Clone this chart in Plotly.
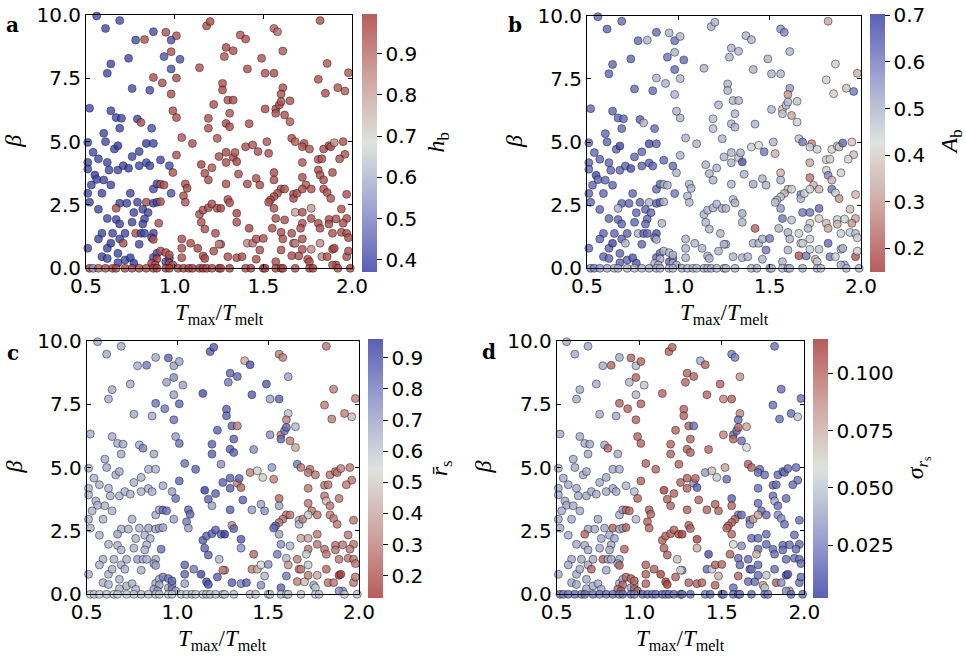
import plotly.graph_objects as go

# ---------------- data ----------------
# groups: top-left | top-right | middle-right | left-middle | left-lower |
#         centre | right-middle | lower-centre/right | bottom | beta = 0 row
x = [
    0.56, 0.61, 0.69, 0.88, 0.78, 0.83, 0.95, 0.98, 1.01, 0.98, 0.94, 1.03, 0.98, 0.64, 0.62, 0.74, 0.88, 0.93, 1.01, 0.76, 0.86, 0.98,
    1.18, 1.20, 1.37, 1.40, 1.56, 1.58, 1.82, 1.29, 1.33, 1.14, 1.28, 1.41, 1.49, 1.61, 1.51, 1.56, 1.86, 1.81, 1.98, 1.27, 1.27, 1.85, 1.92, 1.96, 1.61, 1.60,
    1.30, 1.33, 1.22, 1.31, 1.19, 1.19, 1.29, 1.31, 1.42, 1.24, 1.51, 1.57, 1.59, 1.60, 1.65, 1.57, 1.62, 1.65, 1.66, 1.68, 1.73, 1.72, 1.76, 0.99, 1.01, 1.10, 1.04,
    0.52, 0.64, 0.67, 0.70, 0.79, 0.81, 0.69, 0.87, 0.60, 0.61, 0.51, 0.66, 0.68, 0.54, 0.57, 0.51, 0.62, 0.63, 0.68, 0.71, 0.74, 0.76, 0.80, 0.80, 0.84, 0.88, 0.84, 0.86, 0.92, 0.97, 1.01, 0.99, 0.51, 0.55, 0.56, 0.53, 0.60, 0.64, 0.51, 0.59, 0.52, 0.75, 0.88, 0.90, 0.92, 0.94, 0.98,
    0.57, 0.62, 0.69, 0.73, 0.67, 0.67, 0.69, 0.77, 0.76, 0.79, 0.84, 0.82, 0.85, 0.83, 0.82, 0.88, 0.90, 0.92, 0.91, 0.59, 0.57, 0.62, 0.51, 0.65, 0.64, 0.69, 0.71, 0.72, 0.78, 0.81, 0.83, 0.88, 0.80, 0.87, 0.88, 0.59, 0.62, 0.68, 0.68, 0.72, 0.75, 0.77, 0.88, 0.90, 0.95, 0.97, 0.92, 0.95, 0.97, 0.97, 0.90, 0.87, 0.89, 0.99, 1.04, 1.04,
    1.05, 1.06, 1.06, 1.07, 1.15, 1.17, 1.19, 1.21, 1.29, 1.25, 1.29, 1.29, 1.33, 1.34, 1.35, 1.36, 1.41, 1.40, 1.44, 1.47, 1.53, 1.52, 1.46, 1.48, 1.56, 1.56, 1.60, 1.62, 1.58, 1.56, 1.54, 1.53, 1.67, 1.67, 1.69, 1.72, 1.74, 1.72, 1.77, 1.72,
    1.81, 1.83, 1.84, 1.87, 1.88, 1.90, 1.95, 1.96, 1.93, 1.81, 1.82, 1.84, 1.89, 1.84, 1.86, 1.88, 1.97, 1.94, 1.97,
    1.14, 1.16, 1.19, 1.21, 1.24, 1.26, 1.30, 1.31, 1.35, 1.15, 1.17, 1.23, 1.35, 1.42, 1.55, 1.56, 1.57, 1.62, 1.60, 1.66, 1.68, 1.72, 1.77, 1.72, 1.71, 1.77, 1.81, 1.82, 1.87, 1.87, 1.91, 1.95, 1.89, 1.94, 1.97, 1.98,
    1.09, 1.13, 1.22, 1.16, 1.17, 1.26, 1.25, 1.30, 1.35, 1.38, 1.41, 1.44, 1.46, 1.50, 1.48, 1.46, 1.60, 1.57, 1.61, 1.67, 1.66, 1.70, 1.68, 1.72, 1.72, 1.75, 1.77, 1.76, 1.82, 1.83, 1.86, 1.89, 1.90, 1.91, 1.89, 1.97, 1.98, 1.04,
    0.52, 0.54, 0.57, 0.61, 0.65, 0.67, 0.72, 0.76, 0.80, 0.84, 0.88, 0.90, 0.95, 0.97, 1.02, 1.05, 1.08, 1.10, 1.14, 1.16, 1.18, 1.21, 1.25, 1.26, 1.31, 1.40, 1.43, 1.50, 1.51, 1.57, 1.60, 1.61, 1.68, 1.76, 1.78, 1.92, 1.99,
]
beta = [
    9.96, 9.47, 9.78, 9.34, 9.01, 9.03, 9.32, 9.01, 9.18, 8.55, 8.36, 8.25, 7.87, 8.07, 7.70, 8.29, 7.53, 7.32, 7.51, 7.10, 7.03, 6.88,
    9.57, 9.74, 9.21, 9.05, 9.47, 9.34, 9.78, 8.72, 8.59, 7.92, 8.36, 7.87, 8.29, 8.58, 7.70, 7.70, 8.09, 7.46, 7.72, 7.30, 7.04, 6.91, 7.13, 7.00, 7.13, 6.88,
    6.64, 6.64, 6.47, 6.12, 5.92, 5.53, 5.72, 5.59, 5.71, 5.13, 6.29, 6.29, 6.45, 6.58, 6.61, 6.12, 6.05, 5.79, 5.13, 5.00, 4.93, 4.80, 4.71, 6.22, 5.95, 4.93, 5.16,
    6.32, 6.22, 5.95, 5.92, 5.89, 5.76, 5.53, 5.53, 5.33, 5.00, 4.97, 4.71, 4.84, 4.58, 4.32, 4.18, 4.18, 3.88, 3.88, 4.05, 3.95, 4.41, 4.61, 4.05, 4.93, 4.93, 4.17, 4.05, 4.28, 4.05, 4.47, 3.78, 3.92, 3.68, 3.51, 3.29, 3.49, 3.29, 2.96, 2.96, 2.61, 2.96, 3.13, 3.33, 3.32, 3.29, 2.96,
    2.33, 1.97, 2.57, 2.57, 2.37, 1.93, 1.75, 2.20, 1.82, 2.61, 2.61, 2.33, 2.20, 1.95, 1.75, 2.57, 2.61, 2.63, 1.78, 1.38, 1.16, 0.79, 0.79, 1.38, 0.99, 1.16, 0.99, 1.38, 1.38, 1.38, 1.38, 1.38, 0.95, 1.21, 1.14, 0.46, 0.39, 0.59, 0.22, 0.33, 0.42, 0.20, 0.43, 0.59, 0.26, 0.39, 0.68, 0.62, 0.53, 0.20, 0.37, 0.20, 0.13, 0.13, 0.79, 0.42,
    2.86, 2.61, 3.33, 3.16, 4.10, 3.75, 3.49, 3.97, 3.33, 4.41, 4.58, 4.18, 4.38, 4.57, 4.21, 3.72, 3.33, 4.80, 4.87, 4.61, 4.54, 5.00, 3.55, 3.29, 3.78, 3.49, 3.13, 3.13, 2.96, 2.83, 2.70, 2.61, 2.92, 2.76, 2.96, 3.59, 3.29, 3.13, 3.13, 4.18,
    4.30, 4.32, 4.71, 4.84, 4.80, 4.96, 5.00, 4.50, 4.32, 3.88, 3.68, 3.49, 3.78, 3.13, 2.99, 2.76, 2.92, 2.34, 1.97,
    2.13, 2.30, 2.39, 2.54, 2.37, 2.37, 2.72, 2.59, 2.17, 1.82, 1.55, 1.38, 1.82, 1.58, 1.58, 2.37, 1.97, 1.91, 1.42, 1.38, 2.21, 2.21, 2.37, 1.78, 1.58, 1.97, 1.78, 1.58, 1.93, 1.75, 1.95, 1.78, 1.38, 1.42, 1.38, 1.21,
    0.99, 0.79, 0.68, 0.49, 0.39, 0.95, 0.95, 0.46, 0.42, 0.46, 0.99, 0.99, 1.16, 1.18, 0.72, 0.36, 0.72, 0.26, 1.16, 0.99, 0.50, 0.49, 0.99, 1.16, 0.75, 0.36, 0.75, 0.26, 0.99, 0.46, 0.46, 0.75, 0.79, 0.13, 0.13, 0.46, 0.68, 1.16,
    0.00, 0.00, 0.00, 0.00, 0.00, 0.00, 0.00, 0.00, 0.00, 0.00, 0.00, 0.00, 0.00, 0.00, 0.00, 0.00, 0.00, 0.00, 0.00, 0.00, 0.00, 0.00, 0.00, 0.00, 0.00, 0.00, 0.00, 0.00, 0.00, 0.00, 0.00, 0.00, 0.00, 0.00, 0.00, 0.00, 0.00,
]
h_b = [
    0.40, 0.40, 0.41, 0.41, 0.41, 0.95, 0.95, 0.42, 0.95, 0.95, 0.42, 0.42, 0.42, 0.40, 0.40, 0.40, 0.95, 0.95, 0.95, 0.41, 0.41, 0.95,
    0.95, 0.96, 0.94, 0.95, 0.92, 0.90, 0.95, 0.96, 0.95, 0.95, 0.94, 0.95, 0.95, 0.93, 0.95, 0.95, 0.94, 0.95, 0.93, 0.95, 0.96, 0.95, 0.94, 0.93, 0.95, 0.95,
    0.95, 0.96, 0.95, 0.94, 0.95, 0.95, 0.96, 0.95, 0.95, 0.94, 0.95, 0.95, 0.95, 0.95, 0.95, 0.95, 0.95, 0.93, 0.95, 0.92, 0.95, 0.95, 0.94, 0.95, 0.95, 0.95, 0.94,
    0.40, 0.40, 0.40, 0.40, 0.40, 0.95, 0.40, 0.41, 0.40, 0.40, 0.40, 0.40, 0.38, 0.40, 0.40, 0.40, 0.40, 0.40, 0.40, 0.40, 0.38, 0.40, 0.40, 0.40, 0.38, 0.40, 0.40, 0.40, 0.40, 0.41, 0.95, 0.95, 0.40, 0.38, 0.40, 0.40, 0.40, 0.40, 0.40, 0.40, 0.40, 0.40, 0.41, 0.41, 0.95, 0.95, 0.42,
    0.40, 0.40, 0.40, 0.40, 0.95, 0.40, 0.40, 0.40, 0.40, 0.40, 0.95, 0.40, 0.40, 0.40, 0.40, 0.40, 0.40, 0.95, 0.95, 0.40, 0.40, 0.40, 0.40, 0.40, 0.38, 0.40, 0.95, 0.40, 0.95, 0.40, 0.40, 0.40, 0.40, 0.40, 0.95, 0.40, 0.40, 0.40, 0.40, 0.40, 0.38, 0.38, 0.41, 0.41, 0.41, 0.41, 0.95, 0.95, 0.95, 0.97, 0.97, 0.97, 0.95, 0.95, 0.95, 0.95,
    0.95, 0.94, 0.95, 0.96, 0.97, 0.95, 0.95, 0.94, 0.95, 0.95, 0.96, 0.95, 0.95, 0.94, 0.97, 0.95, 0.95, 0.95, 0.94, 0.95, 0.95, 0.94, 0.95, 0.95, 0.96, 0.95, 0.95, 0.94, 0.95, 0.95, 0.95, 0.95, 0.94, 0.95, 0.95, 0.95, 0.93, 0.95, 0.95, 0.94,
    0.95, 0.95, 0.95, 0.95, 0.95, 0.85, 0.95, 0.95, 0.95, 0.95, 0.95, 0.95, 0.95, 0.95, 0.95, 0.95, 0.95, 0.95, 0.95,
    0.95, 0.95, 0.95, 0.95, 0.95, 0.97, 0.95, 0.95, 0.97, 0.95, 0.95, 0.95, 0.95, 0.97, 0.95, 0.95, 0.95, 0.95, 0.95, 0.95, 0.80, 0.95, 0.82, 0.95, 0.95, 0.95, 0.95, 0.95, 0.95, 0.95, 0.95, 0.95, 0.95, 0.95, 0.95, 0.95,
    0.95, 0.97, 0.95, 0.95, 0.97, 0.95, 0.85, 0.95, 0.95, 0.95, 0.85, 0.88, 0.95, 0.95, 0.95, 0.95, 0.95, 0.95, 0.95, 0.95, 0.95, 0.95, 0.85, 0.95, 0.95, 0.95, 0.85, 0.95, 0.85, 0.85, 0.95, 0.95, 0.97, 0.95, 0.95, 0.95, 0.95, 0.95,
    0.98, 0.55, 0.92, 0.96, 0.96, 0.96, 0.96, 0.96, 0.96, 0.96, 0.97, 0.98, 0.97, 0.98, 0.96, 0.97, 0.97, 0.98, 0.98, 0.98, 0.97, 0.96, 0.96, 0.98, 0.98, 0.96, 0.98, 0.96, 0.97, 0.97, 0.98, 0.97, 0.96, 0.97, 0.98, 0.96, 0.98,
]
A_b = [
    0.63, 0.63, 0.62, 0.62, 0.62, 0.50, 0.50, 0.61, 0.50, 0.50, 0.61, 0.62, 0.62, 0.63, 0.63, 0.63, 0.50, 0.50, 0.49, 0.62, 0.62, 0.50,
    0.50, 0.50, 0.50, 0.50, 0.55, 0.58, 0.33, 0.50, 0.50, 0.50, 0.50, 0.50, 0.50, 0.50, 0.50, 0.50, 0.40, 0.45, 0.35, 0.50, 0.50, 0.40, 0.38, 0.60, 0.55, 0.30,
    0.50, 0.50, 0.50, 0.50, 0.48, 0.48, 0.50, 0.50, 0.50, 0.50, 0.50, 0.38, 0.48, 0.48, 0.47, 0.48, 0.33, 0.45, 0.47, 0.60, 0.28, 0.45, 0.45, 0.50, 0.50, 0.50, 0.50,
    0.63, 0.63, 0.63, 0.63, 0.63, 0.50, 0.63, 0.62, 0.63, 0.63, 0.63, 0.63, 0.68, 0.63, 0.63, 0.63, 0.63, 0.63, 0.63, 0.63, 0.67, 0.63, 0.63, 0.63, 0.67, 0.63, 0.63, 0.63, 0.62, 0.62, 0.50, 0.50, 0.63, 0.68, 0.63, 0.63, 0.63, 0.63, 0.63, 0.63, 0.63, 0.63, 0.62, 0.62, 0.50, 0.50, 0.60,
    0.63, 0.63, 0.63, 0.63, 0.50, 0.63, 0.63, 0.63, 0.63, 0.63, 0.50, 0.63, 0.63, 0.63, 0.63, 0.63, 0.63, 0.50, 0.50, 0.63, 0.63, 0.63, 0.63, 0.63, 0.68, 0.63, 0.50, 0.63, 0.50, 0.63, 0.63, 0.66, 0.63, 0.62, 0.50, 0.63, 0.63, 0.63, 0.63, 0.63, 0.66, 0.66, 0.62, 0.62, 0.62, 0.62, 0.50, 0.50, 0.50, 0.50, 0.50, 0.50, 0.50, 0.50, 0.50, 0.50,
    0.50, 0.50, 0.50, 0.50, 0.50, 0.50, 0.50, 0.50, 0.50, 0.50, 0.50, 0.50, 0.38, 0.50, 0.66, 0.50, 0.52, 0.45, 0.42, 0.60, 0.35, 0.50, 0.50, 0.50, 0.35, 0.50, 0.35, 0.45, 0.35, 0.48, 0.48, 0.48, 0.58, 0.50, 0.45, 0.25, 0.35, 0.45, 0.35, 0.33,
    0.40, 0.40, 0.40, 0.40, 0.38, 0.62, 0.38, 0.37, 0.45, 0.40, 0.58, 0.35, 0.45, 0.60, 0.45, 0.30, 0.36, 0.37, 0.33,
    0.50, 0.50, 0.50, 0.50, 0.50, 0.50, 0.48, 0.50, 0.52, 0.50, 0.50, 0.50, 0.50, 0.22, 0.50, 0.55, 0.60, 0.48, 0.50, 0.45, 0.60, 0.60, 0.62, 0.40, 0.50, 0.40, 0.37, 0.33, 0.45, 0.35, 0.45, 0.30, 0.45, 0.45, 0.48, 0.45,
    0.50, 0.50, 0.50, 0.50, 0.50, 0.50, 0.50, 0.50, 0.50, 0.50, 0.50, 0.50, 0.50, 0.60, 0.60, 0.50, 0.50, 0.50, 0.50, 0.45, 0.20, 0.60, 0.45, 0.45, 0.45, 0.35, 0.47, 0.45, 0.62, 0.60, 0.45, 0.50, 0.50, 0.50, 0.50, 0.20, 0.45, 0.50,
    0.58, 0.58, 0.55, 0.52, 0.50, 0.51, 0.50, 0.49, 0.50, 0.51, 0.50, 0.50, 0.49, 0.50, 0.51, 0.50, 0.50, 0.49, 0.50, 0.50, 0.51, 0.50, 0.50, 0.49, 0.50, 0.50, 0.51, 0.50, 0.50, 0.49, 0.50, 0.50, 0.51, 0.50, 0.49, 0.50, 0.50,
]
r_s = [
    0.68, 0.68, 0.67, 0.68, 0.67, 0.80, 0.86, 0.70, 0.70, 0.76, 0.70, 0.70, 0.70, 0.68, 0.68, 0.68, 0.82, 0.80, 0.85, 0.68, 0.68, 0.82,
    0.88, 0.88, 0.40, 0.90, 0.30, 0.30, 0.28, 0.85, 0.85, 0.90, 0.80, 0.88, 0.88, 0.70, 0.70, 0.86, 0.30, 0.30, 0.30, 0.86, 0.86, 0.30, 0.30, 0.45, 0.62, 0.30,
    0.86, 0.30, 0.86, 0.86, 0.86, 0.86, 0.86, 0.86, 0.75, 0.75, 0.75, 0.30, 0.80, 0.85, 0.65, 0.85, 0.30, 0.40, 0.80, 0.28, 0.28, 0.28, 0.28, 0.72, 0.82, 0.85, 0.82,
    0.68, 0.68, 0.68, 0.68, 0.68, 0.78, 0.68, 0.68, 0.68, 0.68, 0.68, 0.68, 0.68, 0.66, 0.66, 0.66, 0.66, 0.66, 0.66, 0.66, 0.66, 0.66, 0.66, 0.66, 0.66, 0.66, 0.66, 0.66, 0.68, 0.70, 0.85, 0.82, 0.66, 0.66, 0.66, 0.66, 0.66, 0.66, 0.66, 0.66, 0.66, 0.66, 0.68, 0.68, 0.82, 0.82, 0.70,
    0.66, 0.66, 0.66, 0.66, 0.70, 0.66, 0.66, 0.66, 0.66, 0.66, 0.70, 0.66, 0.66, 0.66, 0.66, 0.68, 0.70, 0.70, 0.82, 0.66, 0.66, 0.66, 0.66, 0.66, 0.66, 0.66, 0.66, 0.66, 0.70, 0.66, 0.66, 0.66, 0.66, 0.70, 0.70, 0.66, 0.66, 0.66, 0.66, 0.66, 0.66, 0.66, 0.68, 0.68, 0.68, 0.70, 0.80, 0.82, 0.85, 0.80, 0.70, 0.70, 0.70, 0.70, 0.84, 0.70,
    0.80, 0.72, 0.84, 0.85, 0.95, 0.86, 0.70, 0.86, 0.86, 0.86, 0.86, 0.86, 0.30, 0.86, 0.25, 0.86, 0.72, 0.30, 0.58, 0.50, 0.30, 0.72, 0.70, 0.75, 0.25, 0.70, 0.28, 0.28, 0.28, 0.28, 0.85, 0.85, 0.65, 0.65, 0.30, 0.28, 0.28, 0.60, 0.28, 0.28,
    0.28, 0.28, 0.28, 0.28, 0.28, 0.30, 0.28, 0.28, 0.28, 0.28, 0.45, 0.28, 0.28, 0.30, 0.28, 0.28, 0.28, 0.28, 0.28,
    0.86, 0.86, 0.86, 0.86, 0.86, 0.95, 0.35, 0.86, 0.88, 0.86, 0.86, 0.65, 0.75, 0.25, 0.80, 0.70, 0.75, 0.65, 0.65, 0.30, 0.40, 0.40, 0.28, 0.28, 0.60, 0.28, 0.28, 0.28, 0.28, 0.28, 0.28, 0.28, 0.28, 0.28, 0.28, 0.28,
    0.80, 0.92, 0.86, 0.90, 0.90, 0.30, 0.30, 0.86, 0.78, 0.86, 0.30, 0.40, 0.55, 0.75, 0.65, 0.75, 0.80, 0.85, 0.35, 0.30, 0.30, 0.45, 0.30, 0.60, 0.30, 0.70, 0.40, 0.60, 0.25, 0.28, 0.28, 0.15, 0.15, 0.75, 0.75, 0.28, 0.28, 0.85,
    0.60, 0.61, 0.60, 0.62, 0.60, 0.60, 0.61, 0.60, 0.62, 0.60, 0.60, 0.61, 0.60, 0.60, 0.62, 0.60, 0.61, 0.60, 0.60, 0.62, 0.60, 0.61, 0.60, 0.60, 0.62, 0.60, 0.61, 0.60, 0.60, 0.62, 0.60, 0.61, 0.60, 0.60, 0.62, 0.60, 0.61,
]
sigma_rs = [
    0.040, 0.040, 0.040, 0.040, 0.040, 0.100, 0.100, 0.045, 0.100, 0.100, 0.045, 0.050, 0.045, 0.040, 0.040, 0.040, 0.100, 0.100, 0.100, 0.040, 0.040, 0.100,
    0.100, 0.100, 0.040, 0.100, 0.025, 0.025, 0.020, 0.100, 0.100, 0.100, 0.100, 0.100, 0.100, 0.085, 0.090, 0.100, 0.020, 0.020, 0.020, 0.100, 0.100, 0.020, 0.020, 0.050, 0.090, 0.020,
    0.100, 0.020, 0.100, 0.100, 0.100, 0.100, 0.100, 0.100, 0.100, 0.100, 0.090, 0.020, 0.020, 0.100, 0.080, 0.100, 0.020, 0.060, 0.100, 0.100, 0.020, 0.020, 0.020, 0.100, 0.100, 0.100, 0.100,
    0.040, 0.040, 0.040, 0.040, 0.040, 0.100, 0.040, 0.040, 0.040, 0.040, 0.040, 0.040, 0.040, 0.040, 0.040, 0.040, 0.040, 0.040, 0.040, 0.040, 0.040, 0.040, 0.040, 0.040, 0.040, 0.040, 0.040, 0.040, 0.045, 0.045, 0.100, 0.100, 0.040, 0.040, 0.040, 0.040, 0.040, 0.040, 0.040, 0.040, 0.040, 0.040, 0.040, 0.040, 0.100, 0.100, 0.045,
    0.040, 0.040, 0.040, 0.040, 0.100, 0.040, 0.040, 0.040, 0.040, 0.040, 0.100, 0.040, 0.040, 0.040, 0.040, 0.040, 0.040, 0.100, 0.100, 0.040, 0.040, 0.040, 0.040, 0.040, 0.040, 0.040, 0.100, 0.040, 0.100, 0.040, 0.040, 0.040, 0.040, 0.040, 0.100, 0.040, 0.040, 0.040, 0.040, 0.040, 0.040, 0.040, 0.040, 0.040, 0.040, 0.040, 0.100, 0.100, 0.100, 0.100, 0.100, 0.100, 0.100, 0.100, 0.100, 0.100,
    0.100, 0.100, 0.100, 0.100, 0.110, 0.100, 0.100, 0.100, 0.100, 0.100, 0.100, 0.100, 0.030, 0.100, 0.015, 0.100, 0.100, 0.035, 0.070, 0.050, 0.020, 0.080, 0.100, 0.100, 0.015, 0.100, 0.020, 0.020, 0.100, 0.100, 0.100, 0.100, 0.020, 0.030, 0.080, 0.020, 0.020, 0.080, 0.020, 0.020,
    0.020, 0.020, 0.020, 0.020, 0.020, 0.020, 0.020, 0.020, 0.020, 0.020, 0.040, 0.020, 0.020, 0.030, 0.030, 0.020, 0.020, 0.020, 0.020,
    0.100, 0.100, 0.100, 0.100, 0.105, 0.110, 0.100, 0.100, 0.110, 0.100, 0.100, 0.070, 0.075, 0.010, 0.100, 0.100, 0.060, 0.030, 0.020, 0.020, 0.020, 0.020, 0.020, 0.020, 0.075, 0.020, 0.020, 0.020, 0.020, 0.020, 0.020, 0.020, 0.020, 0.020, 0.020, 0.020,
    0.100, 0.110, 0.100, 0.110, 0.110, 0.030, 0.060, 0.100, 0.100, 0.100, 0.020, 0.055, 0.100, 0.100, 0.075, 0.100, 0.100, 0.020, 0.020, 0.020, 0.020, 0.020, 0.020, 0.020, 0.020, 0.080, 0.050, 0.050, 0.020, 0.100, 0.030, 0.010, 0.010, 0.080, 0.030, 0.020, 0.020, 0.100,
    0.020, 0.025, 0.020, 0.020, 0.025, 0.020, 0.020, 0.025, 0.020, 0.020, 0.025, 0.020, 0.020, 0.025, 0.020, 0.020, 0.025, 0.020, 0.020, 0.025, 0.020, 0.020, 0.025, 0.020, 0.020, 0.025, 0.020, 0.020, 0.025, 0.020, 0.020, 0.025, 0.020, 0.020, 0.025, 0.020, 0.020,
]

x_ticks = [0.5, 1.0, 1.5, 2.0]
y_ticks = [0.0, 2.5, 5.0, 7.5, 10.0]
hb_ticks = [0.4, 0.5, 0.6, 0.7, 0.8, 0.9]
Ab_ticks = [0.2, 0.3, 0.4, 0.5, 0.6, 0.7]
rs_ticks = [0.2, 0.3, 0.4, 0.5, 0.6, 0.7, 0.8, 0.9]
sig_ticks = [0.025, 0.050, 0.075, 0.100]

n = len(x)
for name, arr in (("beta", beta), ("h_b", h_b), ("A_b", A_b), ("r_s", r_s), ("sigma_rs", sigma_rs)):
    assert len(arr) == n, (name, n, len(arr))

# ---------------- styling ----------------
W, H = 966, 656
ALPHA = 0.8
bar_stops = [(0.0, (90, 96, 182)), (0.25, (160, 165, 210)), (0.5, (222, 227, 222)),
             (0.75, (208, 165, 160)), (1.0, (184, 92, 92))]


def rgb(c):
    return "rgb(%d,%d,%d)" % c


def under_alpha(c):
    return tuple(max(0, min(255, round((v - 255 * (1 - ALPHA)) / ALPHA))) for v in c)


cbar_cs = [[p, rgb(c)] for p, c in bar_stops]
mark_cs = [[p, rgb(under_alpha(c))] for p, c in bar_stops]

TICKFONT = dict(family="DejaVu Sans", size=20, color="black")
SERIF = "Liberation Serif"

panels = [
    dict(letter="a", values=h_b, cmin=0.372, cmax=0.997, rev=False, ticks=hb_ticks, fmt="{:.1f}",
         title="<i>h</i><sub>b</sub>", box=(86, 15, 352, 268.3), cbar=(362, 13.3, 271.7),
         letter_xy=(12.7, 25), ylab_x=13, ctitle_x=437),
    dict(letter="b", values=A_b, cmin=0.150, cmax=0.704, rev=True, ticks=Ab_ticks, fmt="{:.1f}",
         title="<i>A</i><sub>b</sub>", box=(587, 15.7, 861, 268.3), cbar=(870, 13.3, 271.7),
         letter_xy=(515, 25), ylab_x=514, ctitle_x=950),
    dict(letter="c", values=r_s, cmin=0.129, cmax=0.961, rev=True, ticks=rs_ticks, fmt="{:.1f}",
         title="<i>r\u0304</i><sub>s</sub>", box=(86.7, 340.7, 359, 594.3), cbar=(368, 339, 597.7),
         letter_xy=(12.7, 353), ylab_x=13, ctitle_x=441),
    dict(letter="d", values=sigma_rs, cmin=0.002, cmax=0.115, rev=False, ticks=sig_ticks, fmt="{:.3f}",
         title="<i>σ</i><sub><i>r</i><sub>s</sub></sub>", box=(556.7, 340.7, 804.3, 594.3),
         cbar=(813, 339, 597.7), letter_xy=(489, 352), ylab_x=482, ctitle_x=918),
]

fig = go.Figure()
layout = dict(width=W, height=H, margin=dict(l=0, r=0, t=0, b=0, autoexpand=False),
              paper_bgcolor="white", plot_bgcolor="white", showlegend=False)
annotations = []

for i, p in enumerate(panels):
    k = "" if i == 0 else str(i + 1)
    xa, ya = "x" + k, "y" + k
    l, t, r, b = p["box"]
    cl, ct, cb = p["cbar"]

    fig.add_trace(go.Scatter(
        x=x, y=beta, xaxis=xa, yaxis=ya, mode="markers", cliponaxis=False, hoverinfo="skip",
        marker=dict(color=p["values"], cmin=p["cmin"], cmax=p["cmax"], colorscale=mark_cs,
                    reversescale=p["rev"], size=8, opacity=ALPHA, showscale=False,
                    line=dict(color="rgba(0,0,0,0.7)", width=0.8)),
    ))
    # colour bar (drawn with the un-faded scale, as in the reference)
    fig.add_trace(go.Scatter(
        x=[None], y=[None], xaxis=xa, yaxis=ya, mode="markers", hoverinfo="skip",
        marker=dict(color=[p["cmin"], p["cmax"]], cmin=p["cmin"], cmax=p["cmax"],
                    colorscale=cbar_cs, reversescale=p["rev"], showscale=True,
                    colorbar=dict(x=cl / W, xanchor="left", y=1 - (ct + cb) / 2 / H, yanchor="middle",
                                  len=(cb - ct) / H, lenmode="fraction", thickness=15,
                                  xpad=0, ypad=0, outlinewidth=0,
                                  ticks="outside", ticklen=5, tickwidth=1, tickcolor="black",
                                  tickvals=p["ticks"], ticktext=[p["fmt"].format(v) for v in p["ticks"]],
                                  tickfont=TICKFONT)),
    ))

    axis_common = dict(showline=True, linecolor="black", linewidth=1, mirror="ticks",
                       ticks="inside", ticklen=4, tickwidth=1, tickcolor="black", automargin=False,
                       showgrid=False, zeroline=False, tickfont=TICKFONT)
    layout["xaxis" + k] = dict(domain=[l / W, r / W], range=[0.5, 2.0], anchor=ya,
                               tickvals=x_ticks, ticktext=["%.1f" % v for v in x_ticks], **axis_common)
    layout["yaxis" + k] = dict(domain=[1 - b / H, 1 - t / H], range=[0, 10], anchor=xa,
                               tickvals=y_ticks, ticktext=["%.1f" % v for v in y_ticks], **axis_common)

    # panel letter
    annotations.append(dict(text="<b>%s</b>" % p["letter"], x=p["letter_xy"][0] / W, y=1 - p["letter_xy"][1] / H,
                            xref="paper", yref="paper", showarrow=False, xanchor="center", yanchor="middle",
                            font=dict(family="DejaVu Serif", size=20, color="black")))
    # y label
    annotations.append(dict(text="<i>β</i>", x=p["ylab_x"] / W, y=1 - (t + b) / 2 / H,
                            xref="paper", yref="paper", showarrow=False, textangle=-90,
                            xanchor="center", yanchor="middle",
                            font=dict(family=SERIF, size=24, color="black")))
    # x label
    annotations.append(dict(text="<i>T</i><sub>max</sub>/<i>T</i><sub>melt</sub>",
                            x=(l + r) / 2 / W, y=1 - (b + 46) / H,
                            xref="paper", yref="paper", showarrow=False,
                            xanchor="center", yanchor="middle",
                            font=dict(family=SERIF, size=23, color="black")))
    # colour-bar label
    annotations.append(dict(text=p["title"], x=p["ctitle_x"] / W, y=1 - (ct + cb) / 2 / H,
                            xref="paper", yref="paper", showarrow=False, textangle=-90,
                            xanchor="center", yanchor="middle",
                            font=dict(family=SERIF, size=24, color="black")))

layout["annotations"] = annotations
fig.update_layout(**layout)
fig.write_html("out.html")
